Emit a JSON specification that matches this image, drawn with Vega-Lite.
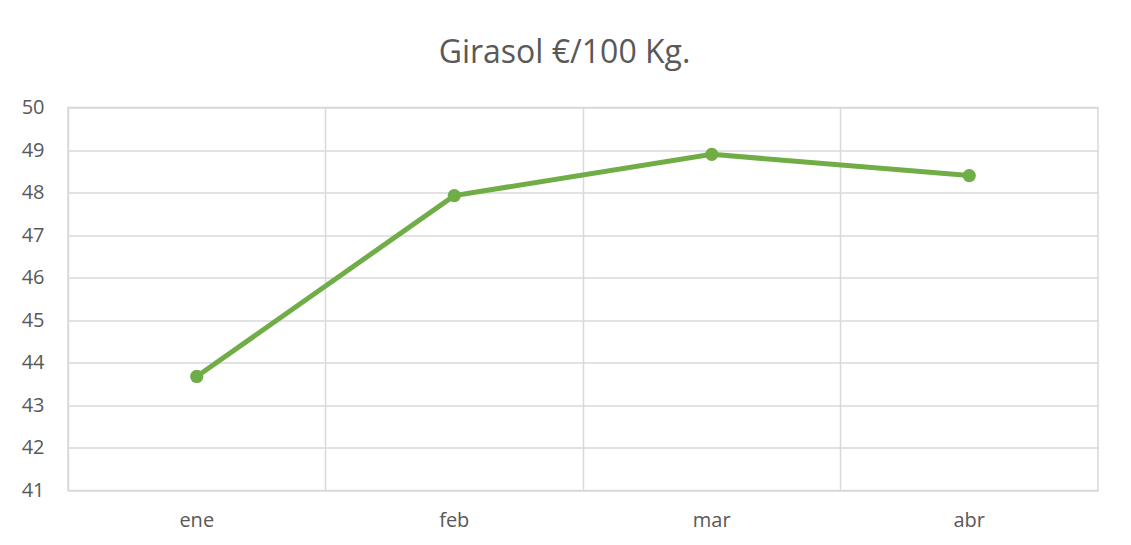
{
  "$schema": "https://vega.github.io/schema/vega-lite/v6.json",
  "autosize": {"type": "none"},
  "width": 1030,
  "height": 383,
  "padding": {"left": 68, "top": 107.5, "right": 33, "bottom": 54.5},
  "background": "white",
  "title": {
    "text": "Girasol €/100 Kg.",
    "font": "Open Sans",
    "fontSize": 32,
    "fontWeight": "normal",
    "color": "#595959",
    "anchor": "middle",
    "dx": -18.5,
    "offset": 28
  },
  "data": {
    "values": [
      {"mes": "ene", "precio": 43.68},
      {"mes": "feb", "precio": 47.93},
      {"mes": "mar", "precio": 48.9},
      {"mes": "abr", "precio": 48.4}
    ]
  },
  "config": {
    "view": {"stroke": "#d9d9d9", "strokeWidth": 1.5},
    "axis": {
      "labelFont": "Open Sans",
      "labelFontSize": 20,
      "labelColor": "#595959",
      "gridColor": "#d9d9d9",
      "gridWidth": 1.5,
      "domain": false,
      "ticks": false,
      "title": null
    }
  },
  "layer": [
    {
      "mark": {"type": "line", "color": "#70ad47", "strokeWidth": 5},
      "encoding": {
        "x": {
          "field": "mes",
          "type": "ordinal",
          "sort": ["ene", "feb", "mar", "abr"],
          "scale": {"type": "band", "paddingInner": 0, "paddingOuter": 0},
          "axis": {"grid": true, "bandPosition": 0, "labelAngle": 0, "labelPadding": 20}
        },
        "y": {
          "field": "precio",
          "type": "quantitative",
          "scale": {"domain": [41, 50], "nice": false, "zero": false},
          "axis": {"values": [41, 42, 43, 44, 45, 46, 47, 48, 49, 50], "labelPadding": 24}
        }
      }
    },
    {
      "mark": {"type": "point", "filled": true, "opacity": 1, "color": "#70ad47", "size": 175},
      "encoding": {
        "x": {"field": "mes", "type": "ordinal", "sort": ["ene", "feb", "mar", "abr"]},
        "y": {"field": "precio", "type": "quantitative"}
      }
    }
  ]
}
